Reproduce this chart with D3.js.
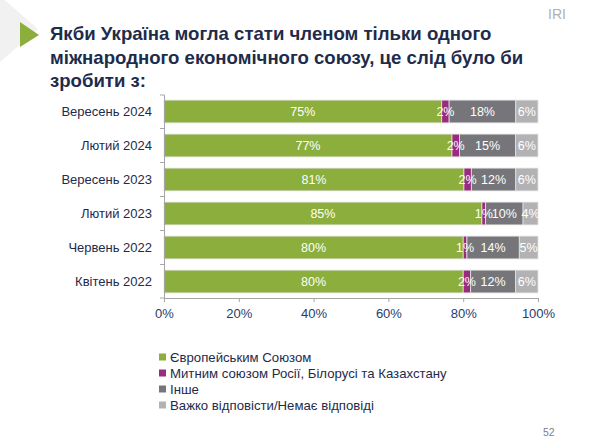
<!DOCTYPE html>
<html><head><meta charset="utf-8">
<script src="https://cdn.jsdelivr.net/npm/d3@7"></script>
<style>
html,body{margin:0;padding:0;background:#fff;}
svg{display:block;}
</style></head>
<body>
<svg id="chart" width="600" height="446"></svg>
<script>
const titleLines = ["Якби Україна могла стати членом тільки одного",
                    "міжнародного економічного союзу, це слід було би",
                    "зробити з:"];
const categories = ["Вересень 2024","Лютий 2024","Вересень 2023","Лютий 2023","Червень 2022","Квітень 2022"];
const seriesNames = ["Європейським Союзом","Митним союзом Росії, Білорусі та Казахстану","Інше","Важко відповісти/Немає відповіді"];
const euValues    = [75, 77, 81, 85, 80, 80];
const cuValues    = [2, 2, 2, 1, 1, 2];
const otherValues = [18, 15, 12, 10, 14, 12];
const dkValues    = [6, 6, 6, 4, 5, 6];
const xTicks = [0, 20, 40, 60, 80, 100];
const colors = ["#8BAE3D", "#9B2B7E", "#76767A", "#B2B2B4"];

const svg = d3.select("#chart");
const navy = "#1E2B4B";
const font = "'Liberation Sans', Arial, sans-serif";

// decorations
svg.append("polygon").attr("points","0,-4 38,29 0,62").attr("fill","#F1F1F1");
svg.append("polygon").attr("points","20,22 39,35 20,47").attr("fill","#8BAE3D");
svg.append("text").attr("x",548).attr("y",19).attr("font-family",font).attr("font-size",14)
  .attr("fill","#B0B0B0").text("IRI");
svg.append("text").attr("x",543).attr("y",436).attr("font-family",font).attr("font-size",10.5)
  .attr("fill","#7F7F7F").text("52");

// title
const title = svg.append("text").attr("font-family",font)
  .attr("font-weight","bold").attr("font-size",18.6).attr("fill",navy);
titleLines.forEach((t,i)=>{
  title.append("tspan").attr("x",50).attr("y",40+i*23.5).text(t);
});

// data table
const rows = categories.map((c,i)=>({cat:c, vals:[euValues[i],cuValues[i],otherValues[i],dkValues[i]]}));

const x = d3.scaleLinear().domain([0,100]).range([164,538]);
const y = d3.scaleBand().domain(categories).range([95,298]).paddingInner(0.33).paddingOuter(0.15);

// segments
const segs = [];
rows.forEach(r=>{
  const total = d3.sum(r.vals);
  let acc = 0;
  r.vals.forEach((v,j)=>{
    segs.push({cat:r.cat, j, v, s:acc/total*100, e:(acc+v)/total*100});
    acc += v;
  });
});

const g = svg.append("g");
g.selectAll("rect").data(segs).join("rect")
  .attr("x",d=>x(d.s)).attr("y",d=>y(d.cat)).attr("width",d=>x(d.e)-x(d.s)).attr("height",y.bandwidth())
  .attr("fill",d=>colors[d.j]).attr("stroke","#E2E2E2").attr("stroke-width",0.8);
g.selectAll("text").data(segs).join("text")
  .attr("x",d=>(x(d.s)+x(d.e))/2).attr("y",d=>y(d.cat)+y.bandwidth()/2).attr("dy","0.36em")
  .attr("text-anchor","middle").attr("font-family",font).attr("font-size",12.5)
  .attr("fill","#fff").text(d=>d.v+"%");

// y axis line with boundary ticks
const yAx = svg.append("g").attr("stroke","#A6A6A6").attr("stroke-width",1);
yAx.append("line").attr("x1",164.5).attr("x2",164.5).attr("y1",95).attr("y2",298);
const step = y.step();
categories.forEach((c,i)=>{
  const b = i===0 ? 95 : y(c) - step*0.33/2;
  yAx.append("line").attr("x1",160).attr("x2",164.5).attr("y1",b).attr("y2",b);
});
yAx.append("line").attr("x1",160).attr("x2",164.5).attr("y1",298).attr("y2",298);

// category labels
const la = svg.append("g").attr("transform","translate(164,0)")
  .call(d3.axisLeft(y).tickSize(0).tickPadding(12));
la.select(".domain").remove();
la.selectAll("text").attr("font-family",font).attr("font-size",13).attr("fill",navy);

// x axis
const xa = svg.append("g").attr("transform","translate(0,298)")
  .call(d3.axisBottom(x).tickValues(xTicks).tickSize(4).tickSizeOuter(0).tickPadding(7).tickFormat(d=>d+"%"));
xa.select(".domain").attr("stroke","#A6A6A6");
xa.selectAll(".tick line").attr("stroke","#A6A6A6");
xa.selectAll("text").attr("font-family",font).attr("font-size",13).attr("fill","#1F3D6B");

// legend
const lg = svg.append("g");
seriesNames.forEach((n,i)=>{
  const cy = 357 + i*16;
  lg.append("rect").attr("x",159).attr("y",cy-3.5).attr("width",7).attr("height",7).attr("fill",colors[i]);
  lg.append("text").attr("x",170).attr("y",cy).attr("dy","0.36em").attr("font-family",font)
    .attr("font-size",13.2).attr("fill",navy).text(n);
});
</script>
</body></html>
